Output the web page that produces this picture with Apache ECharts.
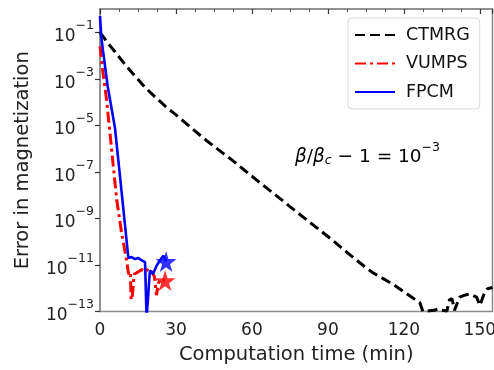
<!DOCTYPE html>
<html>
<head>
<meta charset="utf-8">
<script src="https://cdn.jsdelivr.net/npm/echarts@6/dist/echarts.min.js"></script>
<style>html,body{margin:0;padding:0;background:#fff;}#c{width:494px;height:370px;}</style>
</head>
<body>
<div id="c"></div>
<script>
// Computation time (min) and log10(error in magnetization)
const ctmrgTime = [0,3,6,10,14,17.8,22,26,30,36,42,48,51.3,57.2,63,70,78,85,92,98,105.4,108,112,116,120,124,126.3,127.5,130,132,133.5,135,137,138,139,140,142,144,146,148.7,150,151.7,153,155];
const ctmrgLogErr = [-1.0,-1.45,-1.85,-2.4,-2.9,-3.37,-3.8,-4.2,-4.55,-5.1,-5.65,-6.15,-6.42,-6.94,-7.45,-8.05,-8.75,-9.35,-9.95,-10.5,-11.15,-11.35,-11.6,-11.85,-12.15,-12.45,-12.61,-13.0,-12.97,-12.95,-12.88,-12.95,-12.98,-12.5,-12.45,-12.95,-12.38,-12.3,-12.24,-12.38,-12.74,-12.24,-12.02,-11.97];

const vumpsTime = [0,1,2.6,3.9,6.6,8.5,10.5,11.3,12,12.3,12.8,13.5,15,16.5,18,19,20.4,21.5,22.3,23,24,25.7];
const vumpsLogErr = [-1.6,-2.6,-3.9,-5.3,-8.2,-9.6,-10.8,-11.4,-11.3,-12.5,-12.3,-11.4,-11.3,-11.2,-11.3,-11.15,-11.3,-11.5,-12.3,-11.8,-11.6,-11.67];

const fpcmTime = [0,0.5,1.2,3,5.9,8,11.2,12.5,13.8,15,16.5,17.8,18.4,19.7,21,22.4,23.7,25,26.1];
const fpcmLogErr = [-0.3,-1.2,-1.8,-3.3,-5.1,-7.3,-10.7,-10.66,-10.75,-10.7,-10.8,-10.88,-13.3,-11.24,-11.38,-11.02,-10.8,-10.6,-10.85];

const seriesNames = ['CTMRG','VUMPS','FPCM'];
const xTicks = [0,30,60,90,120,150];
const yTickExps = [-13,-11,-9,-7,-5,-3,-1];

const zip = (a,b) => a.map((v,i)=>[v,b[i]]);
const last = a => a[a.length-1];
const star = 'path://M50,0 L61,35 L98,35 L68,57 L79,91 L50,70 L21,91 L32,57 L2,35 L39,35 Z';
const FONT = 'DejaVu Sans';

const chart = echarts.init(document.getElementById('c'), null, {renderer:'canvas'});
chart.setOption({
  animation:false,
  backgroundColor:'#fff',
  grid:{left:100,top:9,right:1.5,bottom:58.5,containLabel:false,outerBoundsMode:'none',show:true,borderColor:'#8a8a8a',borderWidth:1.5,backgroundColor:'transparent'},
  legend:{
    data:seriesNames,
    orient:'vertical',
    left:348, top:18,
    itemWidth:40, itemHeight:14, itemGap:10.5,
    padding:[8,10,8,6],
    borderColor:'#d8d8d8', borderWidth:1, borderRadius:4,
    backgroundColor:'#fff',
    itemStyle:{opacity:0},
    textStyle:{fontFamily:FONT,fontSize:17.5,lineHeight:18,color:'#111',padding:[0,0,0,6]}
  },
  xAxis:{
    type:'value', min:0, max:155, interval:30,
    name:'Computation time (min)', nameLocation:'middle', nameGap:33,
    nameTextStyle:{fontFamily:FONT,fontSize:19.5,color:'#222'},
    axisLine:{show:true,lineStyle:{color:'#8a8a8a',width:1.5}},
    axisTick:{show:true,length:5,lineStyle:{color:'#333',width:1.2}},
    minorTick:{show:true,splitNumber:4,length:3,lineStyle:{color:'#555',width:1}},
    axisLabel:{fontFamily:FONT,fontSize:17,color:'#222',margin:11,showMaxLabel:false},
    splitLine:{show:false}
  },
  yAxis:{
    type:'value', min:-13, max:0,
    name:'Error in magnetization', nameLocation:'middle', nameGap:67,
    nameTextStyle:{fontFamily:FONT,fontSize:19.5,color:'#222'},
    axisLine:{show:true,lineStyle:{color:'#8a8a8a',width:1.5}},
    axisTick:{show:true,length:5,customValues:yTickExps,lineStyle:{color:'#333',width:1.2}},
    axisLabel:{
      customValues:yTickExps, margin:6,
      formatter:v=>'{b|10}{s|\u2212'+Math.abs(v)+'}',
      rich:{
        b:{fontFamily:FONT,fontSize:17,color:'#222',verticalAlign:'bottom',lineHeight:26},
        s:{fontFamily:FONT,fontSize:12.5,color:'#222',verticalAlign:'top',lineHeight:14}
      }
    },
    splitLine:{show:false}
  },
  series:[
    {name:'CTMRG',type:'line',data:zip(ctmrgTime,ctmrgLogErr),showSymbol:false,symbol:'none',clip:true,
     lineStyle:{color:'#000',width:3,type:[10,5],cap:'butt'},itemStyle:{color:'#000'},z:3},
    {name:'VUMPS',type:'line',data:zip(vumpsTime,vumpsLogErr),showSymbol:false,symbol:'none',clip:true,
     lineStyle:{color:'#ff0000',width:3,type:[11,4,3,4],cap:'butt'},itemStyle:{color:'#ff0000'},z:4},
    {name:'FPCM',type:'line',data:zip(fpcmTime,fpcmLogErr),showSymbol:false,symbol:'none',clip:true,
     lineStyle:{color:'#0000ff',width:2.6},itemStyle:{color:'#0000ff'},z:5},
    {name:'VUMPS end',type:'scatter',data:[[last(vumpsTime),last(vumpsLogErr)]],
     symbol:star,symbolSize:21,itemStyle:{color:'#ff0000'},z:6},
    {name:'FPCM end',type:'scatter',data:[[last(fpcmTime),last(fpcmLogErr)]],
     symbol:star,symbolSize:21,itemStyle:{color:'#0000ff'},z:6}
  ],
  graphic:[{
    type:'text', left:295, top:141,
    style:{
      text:'{i|\u03b2}{n|/}{i|\u03b2}{sub|c}{n| \u2212 1 = 10}{sup|\u22123}',
      rich:{
        i:{fontFamily:FONT,fontStyle:'italic',fontSize:18.5,color:'#222',verticalAlign:'bottom',lineHeight:26},
        n:{fontFamily:FONT,fontSize:18.5,color:'#222',verticalAlign:'bottom',lineHeight:26},
        sub:{fontFamily:FONT,fontStyle:'italic',fontSize:12.5,color:'#222',verticalAlign:'bottom',lineHeight:20},
        sup:{fontFamily:FONT,fontSize:12.5,color:'#222',verticalAlign:'top',lineHeight:14}
      }
    }
  }]
});
</script>
</body>
</html>
